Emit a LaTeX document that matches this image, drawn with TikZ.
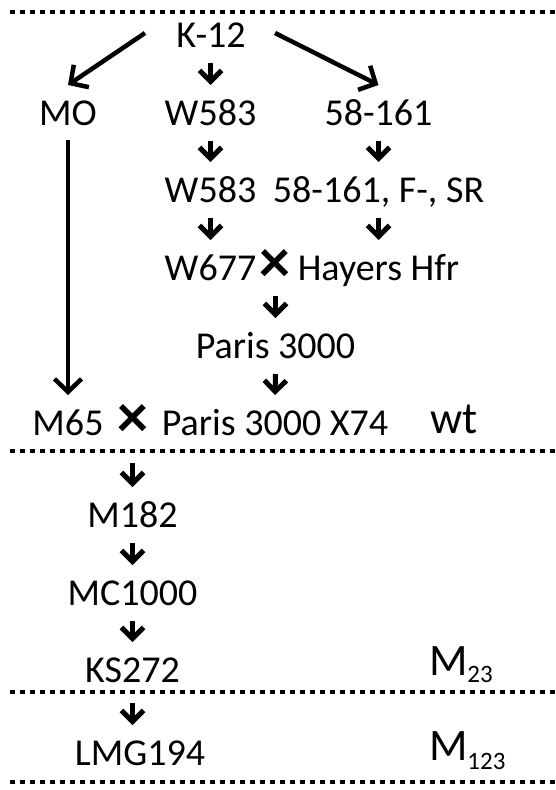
\documentclass[tikz,border=0pt]{standalone}
\usepackage{fontspec}
\setmainfont{Carlito}
\usetikzlibrary{arrows.meta}
\begin{document}
\begin{tikzpicture}[x=1pt,y=-1pt,
  lbl/.style={font=\fontsize{38}{40}\selectfont, inner sep=0pt, outer sep=0pt, anchor=base},
  big/.style={font=\fontsize{45}{46}\selectfont, inner sep=0pt, outer sep=0pt, anchor=base west},
  cross/.style={font=\fontsize{62}{62}\selectfont\bfseries, inner sep=0pt, outer sep=0pt},
  sarr/.style={line width=5pt, -{Straight Barb[length=11pt,width=22pt]}},
  larr/.style={line width=4.5pt, -{Straight Barb[length=13pt,width=27pt]}},
  dots/.style={line width=4pt, dash pattern=on 4.5pt off 5.5pt}
]
\useasboundingbox (0,0) rectangle (555,790);
% separators
\draw[dots] (10,12) -- (555,12);
\draw[dots] (10,451) -- (555,451);
\draw[dots] (10,692) -- (555,692);
\draw[dots] (10,782) -- (555,782);
% nodes
\node[lbl] (k12) at (211,47) {K-12};
\node[lbl] (mo) at (68,125) {MO};
\node[lbl] (w583) at (210.5,125) {W583};
\node[lbl] (s58) at (378.5,125) {58-161};
\node[lbl] (w583b) at (210.5,202) {W583};
\node[lbl] (s58b) at (378.5,202) {58-161, F-, SR};
\node[lbl] (w677) at (210.5,280) {W677};
\node[cross] (xa) at (275,266) {×};
\node[lbl] (hay) at (378.5,280) {Hayers Hfr};
\node[lbl] (p3000) at (275.5,358) {Paris 3000};
\node[lbl] (m65) at (68,435) {M65};
\node[cross] (xb) at (132.5,421) {×};
\node[lbl] (p3x) at (275,435) {Paris 3000 X74};
\node[big] (wt) at (430,433) {wt};
\node[lbl] (m182) at (132.5,527) {M182};
\node[lbl] (mc) at (132.5,605) {MC1000};
\node[lbl] (ks) at (132.5,682) {KS272};
\node[big] (m23) at (429,675) {M\raisebox{-7pt}{\fontsize{25}{25}\selectfont 23}};
\node[lbl] (lmg) at (140,765) {LMG194};
\node[big] (m123) at (429,760) {M\raisebox{-9pt}{\fontsize{25}{25}\selectfont 123}};
% long arrows
\draw[larr] ([shift={(-66,-14)}]k12.base) -- ([shift={(0,-40)}]mo.base);
\draw[larr] ([shift={(64,-14)}]k12.base) -- ([shift={(0,-40)}]s58.base);
\draw[larr] ([shift={(0,15)}]mo.base) -- ([shift={(0,-40)}]m65.base);
% short arrows
\draw[sarr] ([shift={(-0.5,16)}]k12.base) -- ([shift={(0,-40)}]w583.base);
\draw[sarr] ([shift={(0,16)}]w583.base) -- ([shift={(0,-40)}]w583b.base);
\draw[sarr] ([shift={(0,16)}]s58.base) -- ([shift={(0,-40)}]s58b.base);
\draw[sarr] ([shift={(0,16)}]w583b.base) -- ([shift={(0,-40)}]w677.base);
\draw[sarr] ([shift={(0,16)}]s58b.base) -- ([shift={(0,-40)}]hay.base);
\draw[sarr] ([shift={(0.5,30)}]xa.center) -- ([shift={(0,-40)}]p3000.base);
\draw[sarr] ([shift={(0,16)}]p3000.base) -- ([shift={(0,-40)}]p3x.base);
\draw[sarr] ([shift={(0,42)}]xb.center) -- ([shift={(0,-40)}]m182.base);
\draw[sarr] ([shift={(0,16)}]m182.base) -- ([shift={(0,-40)}]mc.base);
\draw[sarr] ([shift={(0,16)}]mc.base) -- ([shift={(0,-40)}]ks.base);
\draw[sarr] ([shift={(0,21)}]ks.base) -- ([shift={(-7.5,-40)}]lmg.base);
\end{tikzpicture}
\end{document}
